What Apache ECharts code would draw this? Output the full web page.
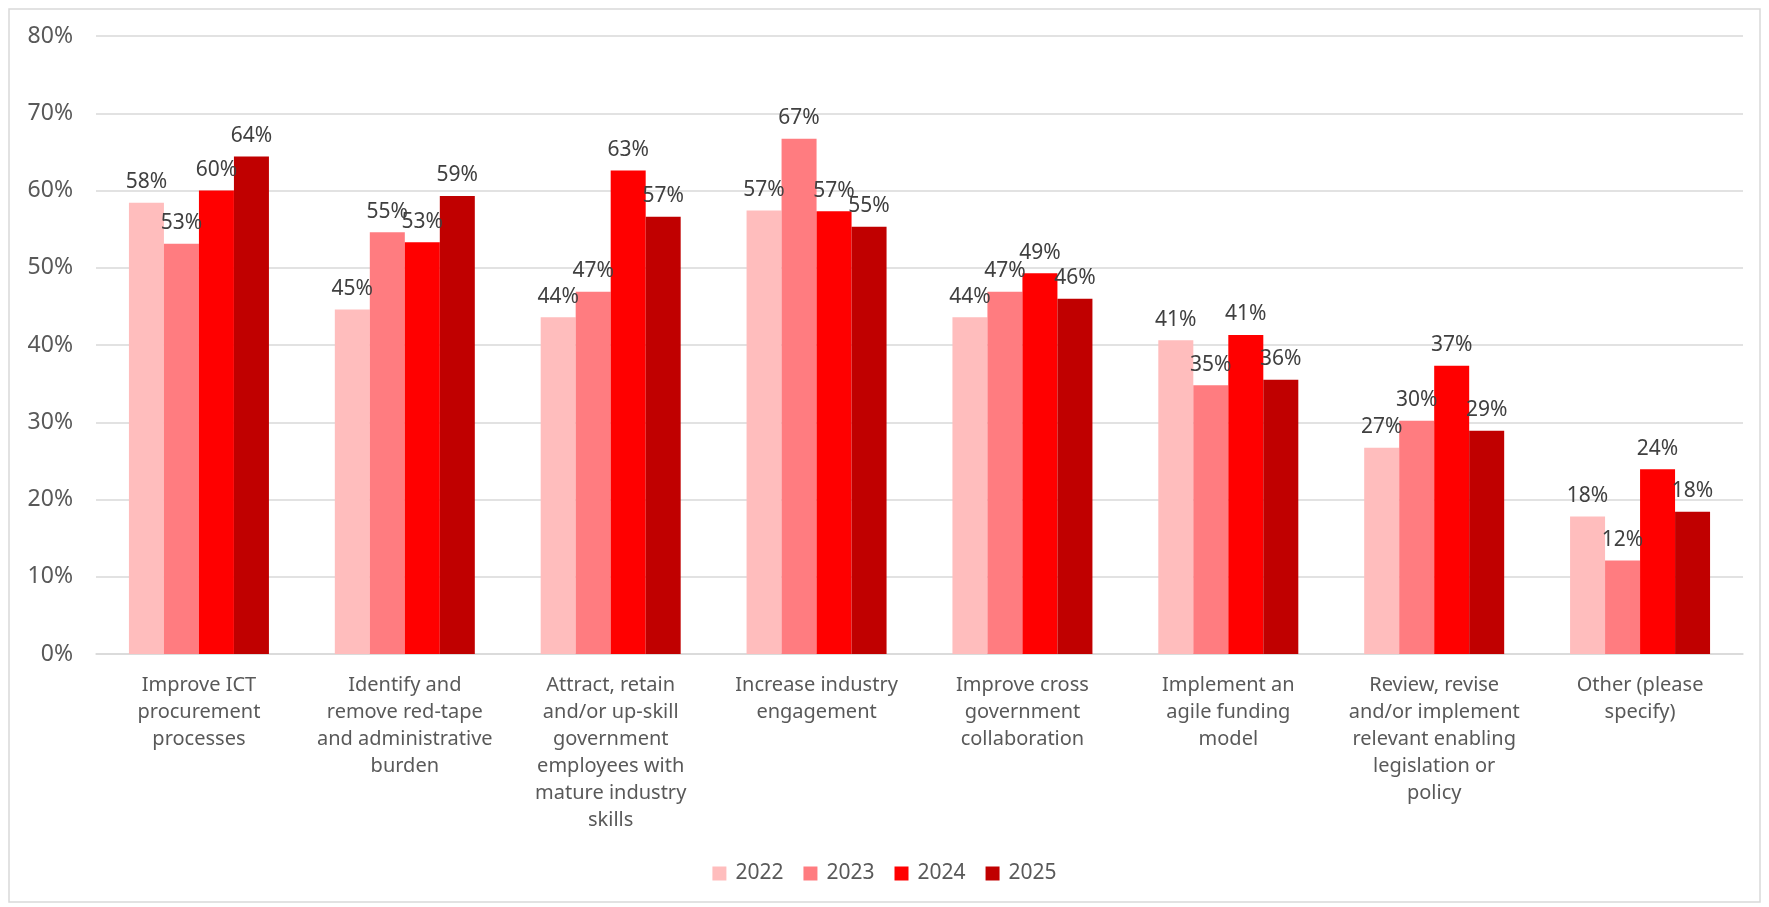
<!DOCTYPE html>
<html>
<head>
<meta charset="utf-8">
<script src="https://cdn.jsdelivr.net/npm/echarts@6/dist/echarts.min.js"></script>
<style>
  html, body { margin: 0; padding: 0; background: #fff; }
  #chart { width: 1769px; height: 907px; }
</style>
</head>
<body>
<div id="chart"></div>
<script>
// Survey categories (axis labels, wrapped as shown under the bars)
const categories = [
  'Improve ICT\nprocurement\nprocesses',
  'Identify and\nremove red-tape\nand administrative\nburden',
  'Attract, retain\nand/or up-skill\ngovernment\nemployees with\nmature industry\nskills',
  'Increase industry\nengagement',
  'Improve cross\ngovernment\ncollaboration',
  'Implement an\nagile funding\nmodel',
  'Review, revise\nand/or implement\nrelevant enabling\nlegislation or\npolicy',
  'Other (please\nspecify)'
];

// Share of respondents (%) per year
const years = ['2022', '2023', '2024', '2025'];
const values2022 = [58.4, 44.6, 43.6, 57.4, 43.6, 40.6, 26.7, 17.8];
const values2023 = [53.1, 54.6, 46.9, 66.7, 46.9, 34.8, 30.2, 12.1];
const values2024 = [60.0, 53.3, 62.6, 57.3, 49.3, 41.3, 37.3, 23.9];
const values2025 = [64.4, 59.3, 56.6, 55.3, 46.0, 35.5, 28.9, 18.4];

// Y axis ticks
const yTicks = [0, 10, 20, 30, 40, 50, 60, 70, 80];

const colors = ['#FFBDBD', '#FF7C80', '#FF0000', '#C00000'];
const FONT = 'Noto Sans';

const seriesData = [values2022, values2023, values2024, values2025];

const chart = echarts.init(document.getElementById('chart'));
chart.setOption({
  animation: false,
  textStyle: { fontFamily: FONT },
  graphic: [{
    type: 'rect',
    shape: { x: 9, y: 9, width: 1751, height: 893 },
    style: { fill: 'none', stroke: '#d9d9d9', lineWidth: 1.5 },
    silent: true
  }],
  grid: { left: 96, right: 26, top: 36, bottom: 253, containLabel: false },
  legend: {
    data: years,
    bottom: 18,
    left: 'center',
    itemWidth: 14,
    itemHeight: 14,
    itemGap: 20,
    icon: 'rect',
    textStyle: { fontFamily: FONT, fontSize: 21, color: '#595959', padding: [0, 0, 0, 4] }
  },
  xAxis: {
    type: 'category',
    data: categories,
    axisLine: { lineStyle: { color: '#d9d9d9', width: 1.5 } },
    axisTick: { show: false },
    axisLabel: {
      interval: 0,
      margin: 18,
      fontFamily: FONT,
      fontSize: 20,
      lineHeight: 27,
      color: '#595959',
      align: 'center'
    }
  },
  yAxis: {
    type: 'value',
    min: yTicks[0],
    max: yTicks[yTicks.length - 1],
    interval: 10,
    axisLine: { show: false },
    axisTick: { show: false },
    splitLine: { lineStyle: { color: '#d9d9d9', width: 1.5 } },
    axisLabel: {
      margin: 23,
      fontFamily: FONT,
      fontSize: 23,
      color: '#595959',
      formatter: v => v + '%'
    }
  },
  series: years.map((y, i) => ({
    name: y,
    type: 'bar',
    data: seriesData[i],
    barGap: '0%',
    barCategoryGap: '32%',
    itemStyle: { color: colors[i] },
    label: {
      show: true,
      position: 'top',
      distance: 10,
      fontFamily: FONT,
      fontSize: 21,
      color: '#404040',
      formatter: p => Math.round(p.value) + '%'
    }
  }))
});
</script>
</body>
</html>
